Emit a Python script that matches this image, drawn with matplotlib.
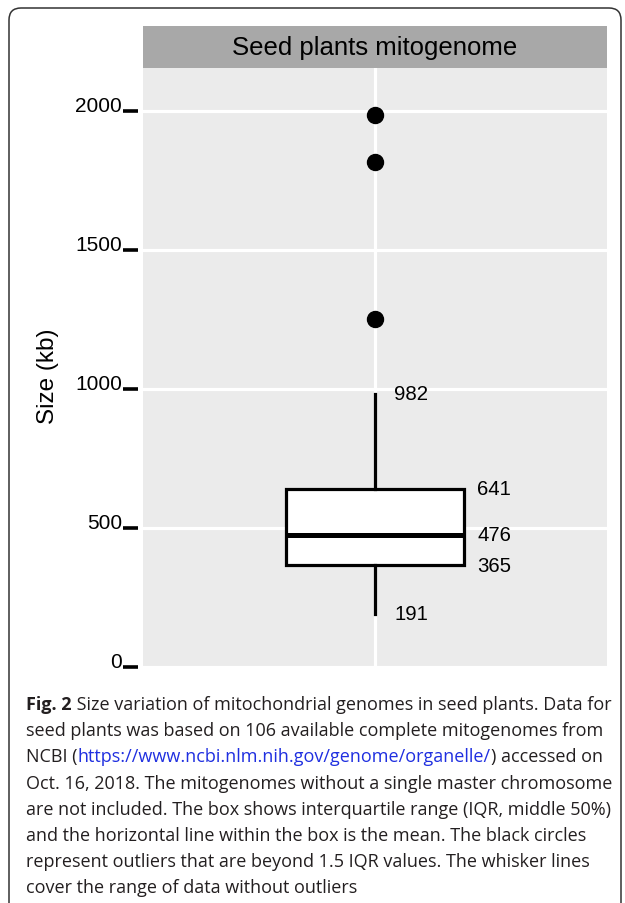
import matplotlib
matplotlib.use("Agg")
import matplotlib.pyplot as plt
from matplotlib.patches import FancyBboxPatch
from matplotlib.transforms import blended_transform_factory

# valores (kb)
quartis = [365, 476, 641]          # Q1, linha central, Q3
bigodes = [191, 982]               # limites dos bigodes
outliers = [1250, 1817, 1986]
rotulos_caixa = [641, 476, 365]
rotulos_bigode = [982, 191]
yticks = [0, 500, 1000, 1500, 2000]
titulo_painel = "Seed plants mitogenome"

W, H = 625, 904
fig = plt.figure(figsize=(W / 100, H / 100), dpi=100)
fig.patch.set_facecolor("white")

def caixa_px(x0, y0, x1, y1):
    # converte pixels (origem no topo) para fracao da figura
    return [x0 / W, 1 - y1 / H, (x1 - x0) / W, (y1 - y0) / H]

ax = fig.add_axes(caixa_px(143, 69, 607, 668))
ax.set_facecolor("#EBEBEB")
for s in ax.spines.values():
    s.set_visible(False)

stats = [{"whislo": bigodes[0], "q1": quartis[0], "med": quartis[1],
          "q3": quartis[2], "whishi": bigodes[1], "fliers": outliers}]
ax.bxp(stats, positions=[1], widths=0.46, patch_artist=True, showcaps=False,
       boxprops=dict(facecolor="white", edgecolor="black", linewidth=2.3),
       medianprops=dict(color="black", linewidth=3.6, solid_capstyle="butt"),
       whiskerprops=dict(color="black", linewidth=2.3),
       flierprops=dict(marker="o", markerfacecolor="black", markeredgecolor="black",
                       markersize=11.5), zorder=3)

ax.set_xlim(0.4, 1.6)
ax.set_ylim(0, 2154)
ax.set_xticks([1])
ax.set_xticklabels([])
ax.tick_params(axis="x", length=0)
ax.set_yticks(yticks)
ax.set_yticklabels([str(v) for v in yticks])
ax.tick_params(axis="y", length=0, pad=15, labelsize=15)
for lb in ax.get_yticklabels():
    lb.set_verticalalignment("baseline")
    lb.set_fontfamily("Liberation Sans")
ax.grid(True, color="white", linewidth=2.3)
ax.set_axisbelow(True)

# marcas dos ticks separadas do painel
tr = blended_transform_factory(ax.transAxes, ax.transData)
for v in yticks:
    ax.plot([-0.043, -0.011], [v, v], color="black", linewidth=2.6,
            transform=tr, clip_on=False, solid_capstyle="butt")

for v in rotulos_bigode:
    ax.text(1.05, v, str(v), va="center", ha="left", fontsize=14.7,
            family="Liberation Sans", zorder=4)
for v in rotulos_caixa:
    ax.text(1.265, v, str(v), va="center", ha="left", fontsize=14.7,
            family="Liberation Sans", zorder=4)

ax.set_ylabel("Size (kb)", fontsize=17.5, family="Liberation Sans")
ax.yaxis.set_label_coords(-0.181, 0.4875)

# faixa do titulo
strip = fig.add_axes(caixa_px(143, 27, 607, 69))
strip.set_facecolor("#A8A8A8")
strip.set_xticks([])
strip.set_yticks([])
for s in strip.spines.values():
    s.set_visible(False)
strip.text(0.5, 0.5, titulo_painel, ha="center", va="center", fontsize=18.5,
           family="Liberation Sans", transform=strip.transAxes)

# moldura arredondada
moldura = FancyBboxPatch((9, -40), 612, H - 9 + 40, boxstyle="round,pad=0,rounding_size=12",
                         transform=None, facecolor="none", edgecolor="#333333", linewidth=1.1)
fig.patches.append(moldura)

# legenda da figura
linhas = [
    [("Fig. 2", "bold", "#231F20"), (" Size variation of mitochondrial genomes in seed plants. Data for", "normal", "#231F20")],
    [("seed plants was based on 106 available complete mitogenomes from", "normal", "#231F20")],
    [("NCBI (", "normal", "#231F20"), ("https://www.ncbi.nlm.nih.gov/genome/organelle/", "normal", "#1F2FE0"),
     (") accessed on", "normal", "#231F20")],
    [("Oct. 16, 2018. The mitogenomes without a single master chromosome", "normal", "#231F20")],
    [("are not included. The box shows interquartile range (IQR, middle 50%)", "normal", "#231F20")],
    [("and the horizontal line within the box is the mean. The black circles", "normal", "#231F20")],
    [("represent outliers that are beyond 1.5 IQR values. The whisker lines", "normal", "#231F20")],
    [("cover the range of data without outliers", "normal", "#231F20")],
]
fonte_leg = "Open Sans"
renderer = fig.canvas.get_renderer()

def largura(txt, peso, fs):
    t = fig.text(0, 0, txt, fontsize=fs, fontweight=peso, family=fonte_leg)
    w = t.get_window_extent(renderer).width
    t.remove()
    return w

# ajusta o tamanho para a primeira linha caber como na figura original
w1 = sum(largura(s, p, 14) for s, p, c in linhas[0])
fs_leg = 14 * 590 / w1

y_base = 710
for i, segs in enumerate(linhas):
    x = 26
    y = y_base + i * 26.2
    for s, p, c in segs:
        fig.text(x / W, 1 - y / H, s, fontsize=fs_leg, fontweight=p, color=c,
                 family=fonte_leg, va="baseline", ha="left")
        x += largura(s, p, fs_leg)

fig.savefig("out.png", dpi=100)
